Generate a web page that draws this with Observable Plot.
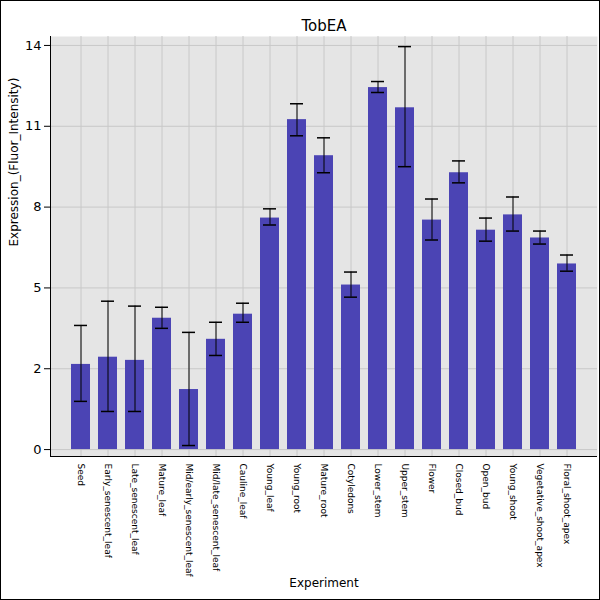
<!DOCTYPE html><html><head>
<script src="https://cdn.jsdelivr.net/npm/d3@7"></script>
<script src="https://cdn.jsdelivr.net/npm/@observablehq/plot@0.6"></script>
<style>body{margin:0}#c{width:598px;height:598px;border:1px solid #000;overflow:hidden}</style>
</head><body><div id="c"></div><script>
const categories=["Seed","Early_senescent_leaf","Late_senescent_leaf","Mature_leaf","Mid/early_senescent_leaf","Mid/late_senescent_leaf","Cauline_leaf","Young_leaf","Young_root","Mature_root","Cotyledons","Lower_stem","Upper_stem","Flower","Closed_bud","Open_bud","Young_shoot","Vegetative_shoot_apex","Floral_shoot_apex"];
const values=[2.95,3.2,3.09,4.55,2.08,3.82,4.69,8.02,11.43,10.18,5.7,12.54,11.84,7.95,9.59,7.6,8.13,7.33,6.43];
const errHigh=[4.3,5.14,4.97,4.93,4.06,4.41,5.07,8.34,11.98,10.8,6.15,12.75,13.96,8.68,10.0,8.02,8.75,7.57,6.74];
const errLow=[1.67,1.32,1.32,4.2,0.14,3.26,4.41,7.78,10.87,9.59,5.28,12.37,9.8,7.26,9.24,7.22,7.57,7.12,6.18];
const yTicks=[0,2.8,5.6,8.4,11.2,14];
const data=categories.map((c,i)=>({c,v:values[i],hi:errHigh[i],lo:errLow[i]}));
const p=Plot.plot({width:598,height:598,marginLeft:49,marginRight:2,marginTop:35,marginBottom:143,
style:{fontFamily:"DejaVu Sans",fontSize:"9px",background:"#fff",color:"#000"},
x:{domain:categories,padding:0.3,insetLeft:10,insetRight:10,label:null},
y:{domain:[-0.24,14.31],label:null},
marks:[
Plot.frame({fill:"#e5e5e5"}),
Plot.gridX(categories,{x:d=>d,stroke:"#c8c8c8",strokeOpacity:1}),
Plot.gridY(yTicks,{stroke:"#c8c8c8",strokeOpacity:1}),
Plot.barY(data,{x:"c",y1:0,y2:"v",fill:"#4b44b4"}),
Plot.ruleX(data,{x:"c",y1:"lo",y2:"hi",stroke:"#000"}),
Plot.tickY(data,{x:"c",y:"hi",stroke:"#000",strokeWidth:1.5,inset:3}),
Plot.tickY(data,{x:"c",y:"lo",stroke:"#000",strokeWidth:1.5,inset:3}),
Plot.axisY({ticks:yTicks,tickFormat:d=>Math.floor(d),fontSize:13,label:null}),
Plot.axisX({tickSize:0,tickRotate:90,tickPadding:7,fontSize:9,label:null,textAnchor:"start"}),
Plot.ruleY([-0.24],{stroke:"#000"}),
Plot.text(["TobEA"],{frameAnchor:"top",dy:-16,fontSize:15,fill:"#000"}),
Plot.text(["Experiment"],{frameAnchor:"bottom",dy:130,fontSize:12,fill:"#000"}),
Plot.text(["Expression_(Fluor_Intensity)"],{frameAnchor:"left",dx:-36,rotate:-90,fontSize:12,fill:"#000"})
]});
document.getElementById("c").append(p);
d3.select(p).append("line").attr("x1",49.5).attr("x2",49.5).attr("y1",35).attr("y2",455).attr("stroke","#000");
</script></body></html>
